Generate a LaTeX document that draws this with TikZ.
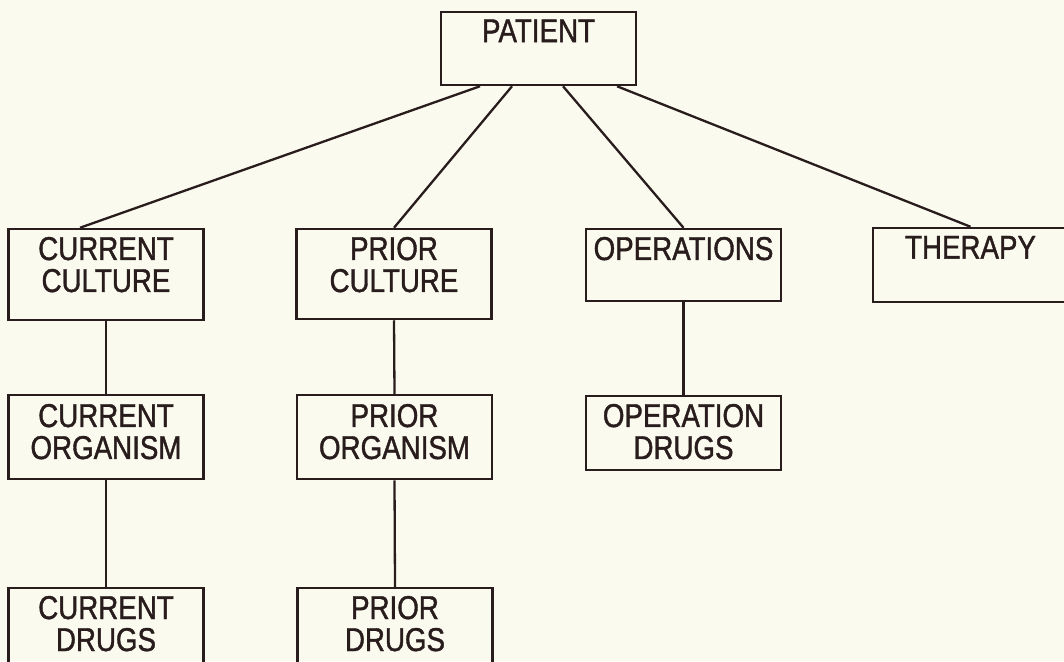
\documentclass[tikz,border=0pt]{standalone}
\usepackage{fontspec}
\newfontfamily\plotfont[FakeStretch=0.84,FakeBold=1.2]{Liberation Sans}
\definecolor{paper}{RGB}{250,251,238}
\definecolor{ink}{RGB}{40,28,28}
\tikzset{
  entity/.style={draw=ink, line width=2.5pt, minimum width=195pt, inner sep=0pt},
  caption/.style={anchor=north, inner sep=0pt, align=center, text=ink,
    font=\plotfont\fontsize{33}{32}\selectfont},
  link/.style={draw=ink, line width=2.3pt},
}
\begin{document}
\begin{tikzpicture}[x=1pt, y=-1pt]
  \fill[paper] (0,0) rectangle (1064,661);
  \useasboundingbox (0,0) rectangle (1064,661);
  \clip (0,0) rectangle (1064,661);

  % entity boxes
  \node[entity, minimum height=73pt] (pat) at (538.5,48.5) {};
  \node[entity, minimum height=91pt] (cc) at (106,274.5) {};
  \node[entity, minimum height=90pt] (pc) at (394,274) {};
  \node[entity, minimum height=72pt] (op) at (683.5,265) {};
  \node[entity, minimum height=74pt] (th) at (970.5,265) {};
  \node[entity, minimum height=84pt] (co) at (106,437) {};
  \node[entity, minimum height=84pt] (po) at (394.5,437) {};
  \node[entity, minimum height=74pt] (od) at (683.5,433) {};
  \node[entity, minimum height=92pt] (cd) at (106,634) {};
  \node[entity, minimum height=92pt] (pd) at (395,634) {};

  % box captions
  \node[caption] (patT) at ([yshift=-8.5pt]pat.north) {PATIENT};
  \node[caption] (ccT) at ([yshift=-9pt]cc.north) {CURRENT\\CULTURE};
  \node[caption] (pcT) at ([yshift=-9pt]pc.north) {PRIOR\\CULTURE};
  \node[caption] (opT) at ([yshift=-9pt]op.north) {OPERATIONS};
  \node[caption] (thT) at ([yshift=-9pt]th.north) {THERAPY};
  \node[caption] (coT) at ([yshift=-10pt]co.north) {CURRENT\\ORGANISM};
  \node[caption] (poT) at ([yshift=-10pt]po.north) {PRIOR\\ORGANISM};
  \node[caption] (odT) at ([yshift=-9pt]od.north) {OPERATION\\DRUGS};
  \node[caption] (cdT) at ([yshift=-9pt]cd.north) {CURRENT\\DRUGS};
  \node[caption] (pdT) at ([yshift=-9pt]pd.north) {PRIOR\\DRUGS};

  % hierarchy links
  \draw[link] ([xshift=-58.5pt]pat.south) -- ([xshift=-26pt]cc.north);
  \draw[link] ([xshift=-26.5pt]pat.south) -- (pc.north);
  \draw[link] ([xshift=24.5pt]pat.south) -- (op.north);
  \draw[link] ([xshift=78.5pt]pat.south) -- (th.north);
  \draw[link] (cc.south) -- (co.north);
  \draw[link] (co.south) -- (cd.north);
  \draw[link] (pc.south) -- (po.north);
  \draw[link] (po.south) -- (pd.north);
  \draw[link] (op.south) -- (od.north);
\end{tikzpicture}
\end{document}
